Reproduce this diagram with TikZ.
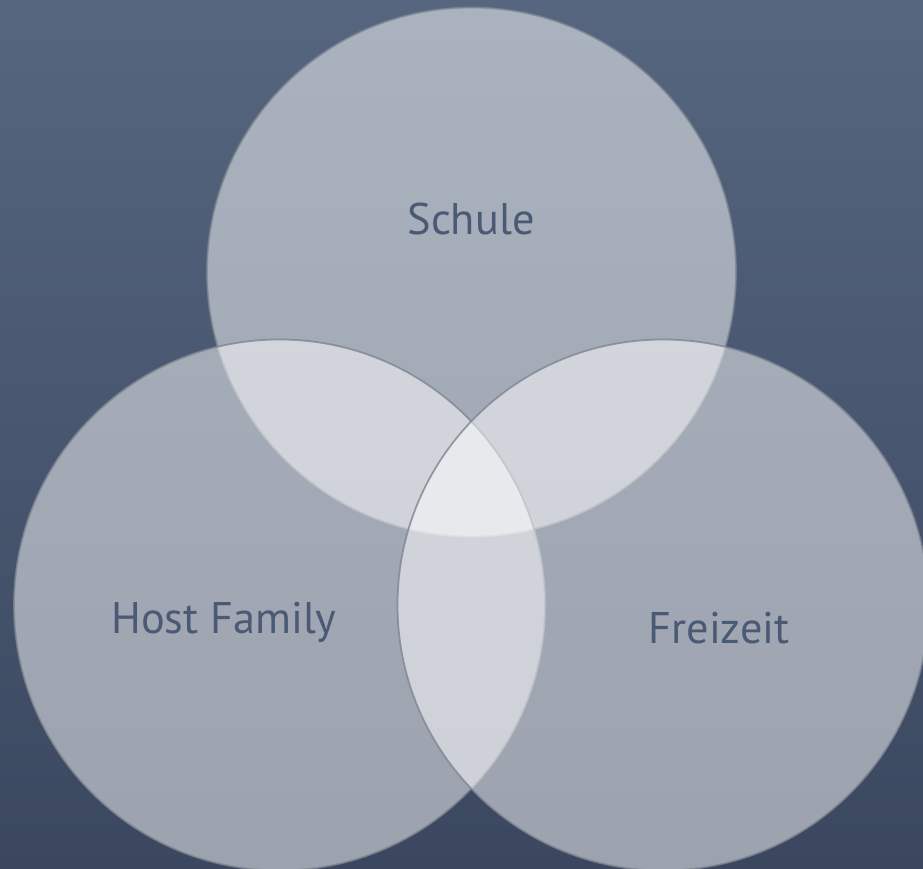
\documentclass[tikz,border=0pt]{standalone}
\usepackage{fontspec}
\setmainfont{PT Sans}
\usepackage{tikz}
\usetikzlibrary{positioning}
\definecolor{bgtop}{HTML}{56667F}
\definecolor{bgbot}{HTML}{3A475F}
\definecolor{labeltxt}{HTML}{4A5A74}
\definecolor{rimgray}{HTML}{7E8592}

\begin{document}
\begin{tikzpicture}[
    vennset/.style={fill=white, fill opacity=0.5, draw=rimgray, draw opacity=0.8, line width=0.5pt},
    setname/.style={text=labeltxt, font=\fontsize{12.6}{15}\selectfont}
  ]
          \shade[top color=bgtop, bottom color=bgbot] (0, 0) rectangle (9.23, 8.68);
          \useasboundingbox (0, 0) rectangle (9.23, 8.68);

          \filldraw[vennset] (4.715, 5.96) circle (2.645);
          \filldraw[vennset] (2.795, 2.63) circle (2.655);
          \filldraw[vennset] (6.63, 2.63) circle (2.655);

          \node[setname] (schule) at (4.71, 6.49) {Schule};
          \node[setname] (host) at (2.24, 2.46) {Host Family};
          \node[setname] (frei) at (7.19, 2.40) {Freizeit};
        \end{tikzpicture}
\end{document}
